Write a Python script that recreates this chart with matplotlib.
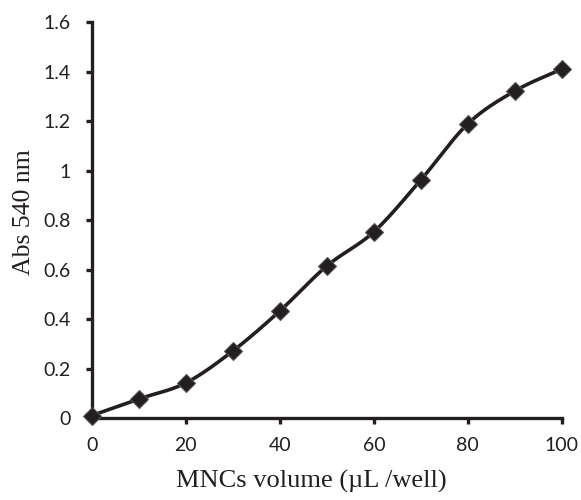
import numpy as np
import matplotlib
matplotlib.use("Agg")
import matplotlib.pyplot as plt

# data
volume = [0, 10, 20, 30, 40, 50, 60, 70, 80, 90, 100]
absorbance = [0.01, 0.077, 0.142, 0.271, 0.433, 0.615, 0.753, 0.963, 1.19, 1.323, 1.412]
x_ticks = [0, 20, 40, 60, 80, 100]
y_ticks = [0, 0.2, 0.4, 0.6, 0.8, 1.0, 1.2, 1.4, 1.6]
y_tick_labels = ["0", "0.2", "0.4", "0.6", "0.8", "1", "1.2", "1.4", "1.6"]

dark = "#231f20"


def smooth_curve(x, y, n=30):
    # Catmull-Rom style smoothing, like a spreadsheet "smoothed line"
    x = np.asarray(x, float)
    y = np.asarray(y, float)
    px = np.concatenate([[2 * x[0] - x[1]], x, [2 * x[-1] - x[-2]]])
    py = np.concatenate([[2 * y[0] - y[1]], y, [2 * y[-1] - y[-2]]])
    xs, ys = [], []
    t = np.linspace(0, 1, n)
    for i in range(1, len(px) - 2):
        p0, p1, p2, p3 = (np.array([px[j], py[j]]) for j in range(i - 1, i + 3))
        c1 = p1 + (p2 - p0) / 6
        c2 = p2 - (p3 - p1) / 6
        b = ((1 - t) ** 3)[:, None] * p1 + (3 * (1 - t) ** 2 * t)[:, None] * c1 \
            + (3 * (1 - t) * t ** 2)[:, None] * c2 + (t ** 3)[:, None] * p2
        xs.extend(b[:, 0])
        ys.extend(b[:, 1])
    return xs, ys


fig = plt.figure(figsize=(5.81, 5.0), dpi=100)
ax = fig.add_axes([0.158, 0.164, 0.809, 0.791])

sx, sy = smooth_curve(volume, absorbance)
ax.plot(sx, sy, color=dark, linewidth=2.6, solid_capstyle="round", clip_on=False, zorder=3)
ax.plot(volume, absorbance, linestyle="none", marker="D", markersize=9.5,
        markerfacecolor=dark, markeredgecolor="#555555", markeredgewidth=0.8,
        clip_on=False, zorder=4)

ax.set_xlim(0, 100)
ax.set_ylim(0, 1.6)
ax.set_xticks(x_ticks)
ax.set_yticks(y_ticks)
ax.set_yticklabels(y_tick_labels)

for side in ["top", "right"]:
    ax.spines[side].set_visible(False)
for side in ["left", "bottom"]:
    ax.spines[side].set_linewidth(2.4)
    ax.spines[side].set_color(dark)

ax.tick_params(axis="both", direction="out", length=4, width=2.4, color=dark,
               labelsize=14, labelcolor=dark)
ax.tick_params(axis="x", pad=10)
ax.tick_params(axis="y", pad=11)
for lab in ax.get_xticklabels() + ax.get_yticklabels():
    lab.set_fontfamily("Lato")

ax.set_xlabel("MNCs volume (\u00b5L /well)", fontsize=19, family="Liberation Serif",
              color=dark)
ax.set_ylabel("Abs 540 nm", fontsize=18.5, family="Liberation Serif", color=dark)
ax.xaxis.set_label_coords(0.468, -0.13)
ax.yaxis.set_label_coords(-0.12, 0.521)

fig.savefig("out.png", dpi=100)
